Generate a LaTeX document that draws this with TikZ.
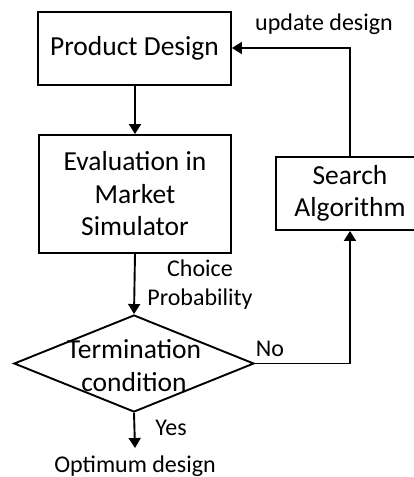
\documentclass[tikz,border=0pt]{standalone}
\usepackage{fontspec}
\setmainfont{Carlito}
\usetikzlibrary{arrows.meta,shapes.geometric}
\begin{document}
\begin{tikzpicture}[x=1pt,y=-1pt,
  line width=1.9pt,
  box/.style={draw,rectangle,inner sep=0pt,align=center,font=\fontsize{27.5}{32.5}\selectfont},
  lbl/.style={inner sep=0pt,align=center,font=\fontsize{24}{29}\selectfont},
  arr/.style={-{Triangle[length=10pt,width=12pt]}}]
\useasboundingbox (0,0) rectangle (414,477);
\clip (0,0) rectangle (414,477);
\node[box,minimum width=193pt,minimum height=73pt] (pd) at (134.5,48.5) {Product Design};
\node[box,minimum width=192pt,minimum height=118pt] (ev) at (135,194) {Evaluation in\\Market\\Simulator};
\node[box,minimum width=148pt,minimum height=73pt] (sa) at (350,193.5) {Search\\Algorithm};
\node[draw,diamond,aspect=2.5,inner sep=0pt,minimum width=240pt,minimum height=97pt] (tc) at (134,363.5) {};
\node[lbl,font=\fontsize{27.5}{33}\selectfont] (tct) at (134,366) {Termination\\condition};
\coordinate (od) at (135,448);
\node[lbl] (odl) at (135,466) {Optimum design};
\node[lbl] (ud) at (324,24) {update design};
\node[lbl] (cp) at (200,285) {Choice\\Probability};
\node[lbl] (no) at (270,349) {No};
\node[lbl] (yes) at (171,428) {Yes};
\coordinate (c1) at (350,48);
\coordinate (c2) at (350,363.5);
\draw[arr] (pd.south -| 135,0) -- (ev.north -| 135,0);
\draw[arr] (ev.south -| 135,0) -- (tc.north);
\draw[arr] (tc.south) -- (od);
\draw[arr] (tc.east) -- (c2) -- (sa.south);
\draw[arr] (sa.north) -- (c1) -- (pd.east |- c1);
\end{tikzpicture}
\end{document}
